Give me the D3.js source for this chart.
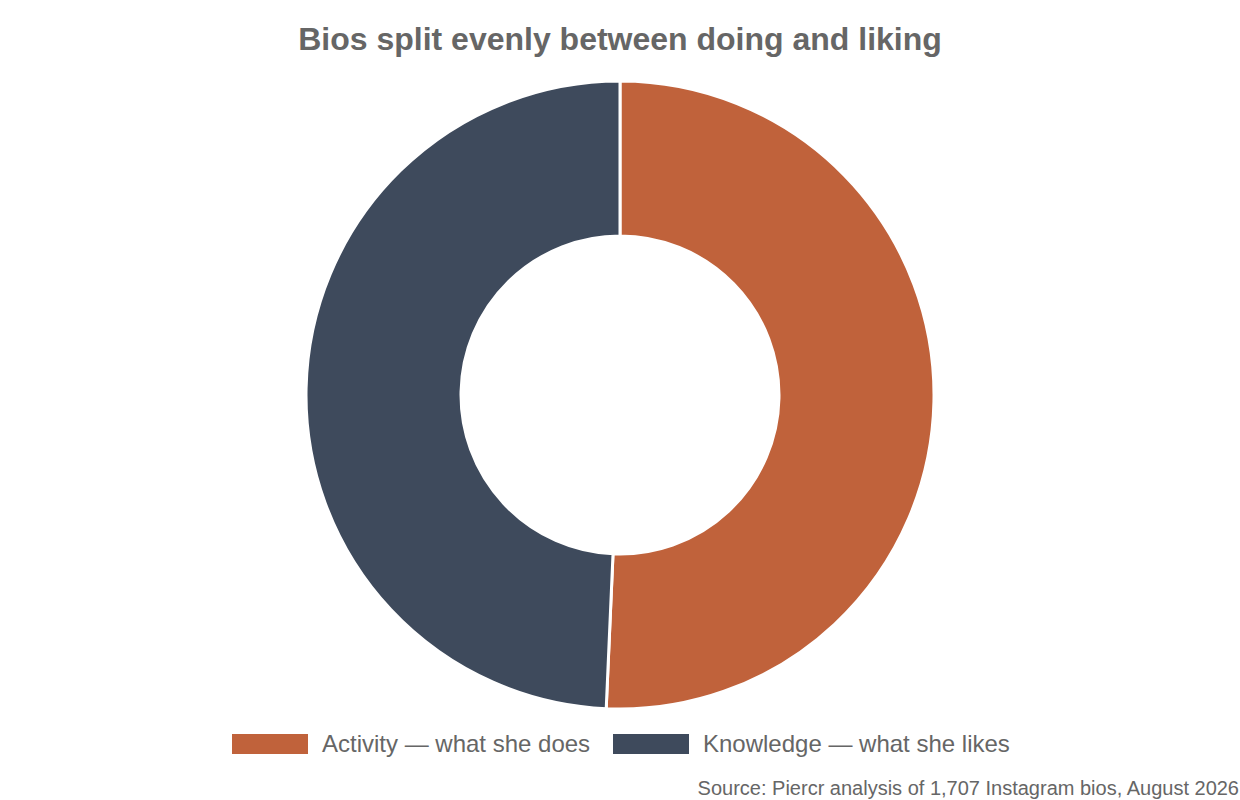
<!DOCTYPE html>
<html><head><meta charset="utf-8">
<script src="https://cdn.jsdelivr.net/npm/d3@7"></script>
<style>body{margin:0;background:#fff;font-family:"Liberation Sans",Arial,sans-serif}</style>
</head><body>
<svg id="c" width="1240" height="800"></svg>
<script>
const categories = ["Activity — what she does", "Knowledge — what she likes"];
const values = [50.7, 49.3];
const colors = ["#c0623b", "#3e4a5c"];
const title = "Bios split evenly between doing and liking";
const source = "Source: Piercr analysis of 1,707 Instagram bios, August 2026";

const svg = d3.select("#c");
const W = 1240;
const cx = 620, cy = 395, rOut = 314, rIn = 159;

svg.append("text").attr("x", W/2).attr("y", 50).attr("text-anchor", "middle")
  .attr("font-size", 32).attr("font-weight", "bold").attr("fill", "#666").text(title);

const pie = d3.pie().sort(null).value(d => d);
const arc = d3.arc().innerRadius(rIn).outerRadius(rOut);
const g = svg.append("g").attr("transform", `translate(${cx},${cy})`);
g.selectAll("path").data(pie(values)).join("path")
  .attr("d", arc).attr("fill", (d, i) => colors[i])
  .attr("stroke", "#fff").attr("stroke-width", 3);

const legX = [232, 613];
const lg = svg.append("g");
categories.forEach((c, i) => {
  lg.append("rect").attr("x", legX[i]).attr("y", 734).attr("width", 76).attr("height", 20).attr("fill", colors[i]);
  lg.append("text").attr("x", legX[i] + 90).attr("y", 752).attr("font-size", 24).attr("fill", "#666").text(c);
});

svg.append("text").attr("x", 1239).attr("y", 795).attr("text-anchor", "end")
  .attr("font-size", 20).attr("fill", "#666").text(source);
</script>
</body></html>
